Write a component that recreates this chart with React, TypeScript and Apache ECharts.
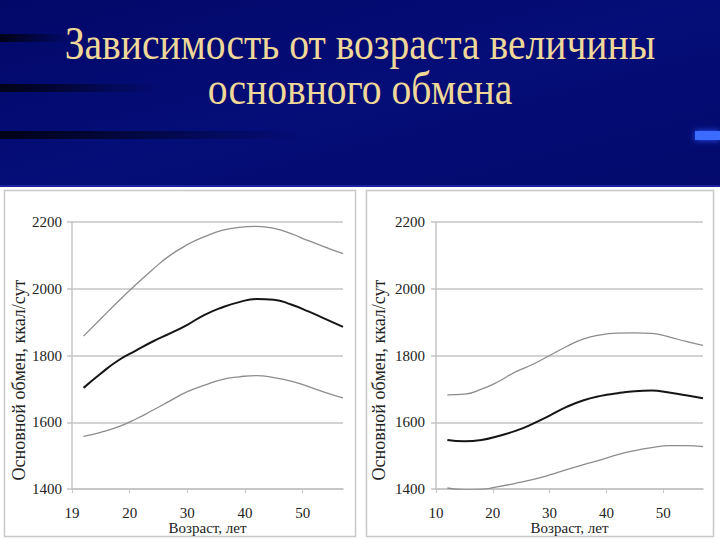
import React, { useEffect, useRef } from "react";
import * as echarts from "echarts";

// ---- data ----
const titleLines = ["Зависимость от возраста величины", "основного обмена"];
const xAxisName = "Возраст, лет";
const yAxisName = "Основной обмен, ккал/сут";

const xTickValues = [10, 20, 30, 40, 50];
const leftXTickLabels = ["19", "20", "30", "40", "50"];
const rightXTickLabels = ["10", "20", "30", "40", "50"];

const ages = [12, 15, 18, 21, 24, 27, 30, 33, 36, 39, 42, 45, 48, 51, 54, 57];

const leftUpper = [1858, 1910, 1962, 2011, 2058, 2100, 2132, 2156, 2175, 2184, 2187, 2181, 2165, 2144, 2124, 2105];
const leftMiddle = [1703, 1746, 1785, 1814, 1842, 1866, 1892, 1922, 1944, 1960, 1969, 1967, 1953, 1932, 1909, 1886];
const leftLower = [1558, 1570, 1586, 1609, 1636, 1664, 1692, 1711, 1728, 1736, 1740, 1734, 1723, 1707, 1689, 1673];

const rightUpper = [1682, 1684, 1699, 1722, 1751, 1773, 1800, 1827, 1850, 1862, 1867, 1868, 1866, 1856, 1842, 1830];
const rightMiddle = [1547, 1543, 1547, 1559, 1574, 1595, 1620, 1646, 1666, 1679, 1687, 1693, 1695, 1689, 1681, 1672];
const rightLower = [1403, 1398, 1399, 1407, 1417, 1428, 1442, 1458, 1473, 1487, 1503, 1515, 1524, 1530, 1530, 1527];

const FONT = "'Liberation Serif', 'Times New Roman', serif";
const GRID_COLOR = "#c4c4c4";
const TEXT_COLOR = "#222222";

function pairs(xs: number[], ys: number[]) {
  return xs.map((x, i) => [x, ys[i]]);
}

function makeX(gridIndex: number, labels: string[]) {
  return {
    type: "value",
    gridIndex,
    min: 10,
    max: 57,
    name: xAxisName,
    nameLocation: "middle",
    nameGap: 30,
    nameTextStyle: { fontFamily: FONT, fontSize: 15, color: TEXT_COLOR },
    axisLine: { show: true, onZero: false, lineStyle: { color: GRID_COLOR, width: 1.5 } },
    axisTick: {
      show: true,
      length: 4,
      customValues: xTickValues,
      lineStyle: { color: GRID_COLOR, width: 1 },
    },
    axisLabel: {
      customValues: xTickValues,
      margin: 16,
      fontFamily: FONT,
      fontSize: 15,
      color: TEXT_COLOR,
      formatter: (v: number) => labels[xTickValues.indexOf(v)] ?? "",
    },
    splitLine: { show: false },
  };
}

function makeY(gridIndex: number, margin: number) {
  return {
    type: "value",
    gridIndex,
    min: 1400,
    max: 2200,
    interval: 200,
    axisLine: { show: true, onZero: false, lineStyle: { color: GRID_COLOR, width: 1.5 } },
    axisTick: { show: true, length: 5, lineStyle: { color: GRID_COLOR, width: 1.5 } },
    axisLabel: {
      margin,
      fontFamily: FONT,
      fontSize: 15,
      color: TEXT_COLOR,
      formatter: (v: number) => String(v),
    },
    splitLine: { show: true, lineStyle: { color: GRID_COLOR, width: 1.5 } },
  };
}

function line(xi: number, vals: number[], dark: boolean) {
  return {
    type: "line",
    xAxisIndex: xi,
    yAxisIndex: xi,
    data: pairs(ages, vals),
    smooth: 0.5,
    symbol: "none",
    lineStyle: dark ? { color: "#151515", width: 2 } : { color: "#8c8c8c", width: 1.3 },
  };
}

export default function App() {
  const ref = useRef<HTMLDivElement>(null);

  useEffect(() => {
    document.body.style.margin = "0";
    if (!ref.current) return;
    const chart = echarts.init(ref.current, null, { renderer: "svg" });

    const stripe = (y: number, w: number) => ({
      type: "rect",
      shape: { x: 0, y, width: w, height: 8 },
      style: {
        fill: new echarts.graphic.LinearGradient(0, 0, 1, 0, [
          { offset: 0, color: "rgba(0,0,0,0.8)" },
          { offset: 1, color: "rgba(0,0,0,0)" },
        ]),
      },
      silent: true,
    });

    const title = (text: string, y: number) => ({
      type: "text",
      x: 360,
      y,
      scaleX: 0.86,
      style: {
        text,
        font: `46px ${FONT}`,
        fill: "#f0d898",
        textAlign: "center",
        textVerticalAlign: "middle",
      },
    });

    const yName = (x: number) => ({
      type: "text",
      x,
      y: 380,
      rotation: Math.PI / 2,
      style: {
        text: yAxisName,
        font: `18px ${FONT}`,
        fill: TEXT_COLOR,
        textAlign: "center",
        textVerticalAlign: "middle",
      },
    });

    chart.setOption({
      animation: false,
      backgroundColor: "#ffffff",
      grid: [
        { left: 72, right: 377, top: 222, bottom: 51 },
        { left: 436, right: 17, top: 222, bottom: 51 },
      ],
      xAxis: [makeX(0, leftXTickLabels), makeX(1, rightXTickLabels)],
      yAxis: [makeY(0, 10), makeY(1, 11)],
      series: [
        line(0, leftUpper, false),
        line(0, leftMiddle, true),
        line(0, leftLower, false),
        line(1, rightUpper, false),
        line(1, rightMiddle, true),
        line(1, rightLower, false),
      ],
      graphic: [
        {
          type: "rect",
          shape: { x: 0, y: 0, width: 720, height: 187 },
          style: {
            fill: new echarts.graphic.LinearGradient(0, 0, 1, 1, [
              { offset: 0, color: "#020868" },
              { offset: 0.5, color: "#050d78" },
              { offset: 1, color: "#030a6c" },
            ]),
          },
          silent: true,
        },
        stripe(34, 70),
        stripe(84, 160),
        stripe(131, 300),
        {
          type: "rect",
          shape: { x: 0, y: 185, width: 720, height: 2 },
          style: { fill: "#1a22a0" },
          silent: true,
        },
        {
          type: "rect",
          shape: { x: 695, y: 131, width: 25, height: 9 },
          style: { fill: "#3a6cff", shadowBlur: 6, shadowColor: "#2a55ff" },
          silent: true,
        },
        title(titleLines[0], 43),
        title(titleLines[1], 88),
        {
          type: "rect",
          shape: { x: 4.5, y: 190.5, width: 351, height: 346 },
          style: { fill: "none", stroke: "#c8c8c8", lineWidth: 1.5 },
          silent: true,
        },
        {
          type: "rect",
          shape: { x: 366.5, y: 190.5, width: 347, height: 346 },
          style: { fill: "none", stroke: "#c8c8c8", lineWidth: 1.5 },
          silent: true,
        },
        yName(19),
        yName(379),
      ],
    });

    return () => chart.dispose();
  }, []);

  return <div ref={ref} style={{ width: 720, height: 540 }} />;
}
